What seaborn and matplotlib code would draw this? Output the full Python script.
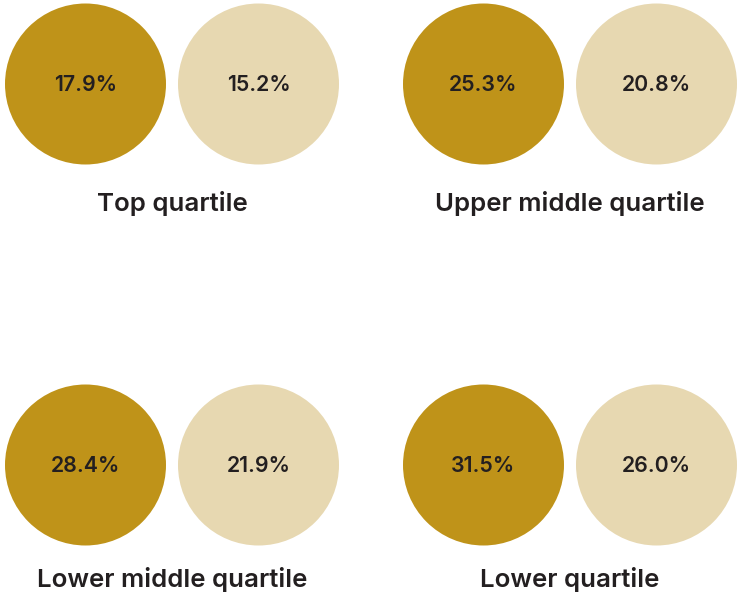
import matplotlib
matplotlib.use("Agg")
import matplotlib.pyplot as plt
import seaborn as sns
import pandas as pd

categories = ["Top quartile", "Upper middle quartile", "Lower middle quartile", "Lower quartile"]
series_a = [17.9, 25.3, 28.4, 31.5]   # dark gold circle
series_b = [15.2, 20.8, 21.9, 26.0]   # light beige circle

DARK = "#BF9319"
LIGHT = "#E7D8B1"
TEXT = "#231F20"

sns.set_theme(style="white")
plt.rcParams['font.family'] = ['Inter', 'DejaVu Sans']

W, H, DPI = 737, 601, 100
fig = plt.figure(figsize=(W / DPI, H / DPI), dpi=DPI)
ax = fig.add_axes([0, 0, 1, 1])

# layout (pixels)
col_x0 = [85.5, 483.5]
gap = 173
row_y = [84, 465]
label_y = [203, 579]
radius = 80.5

rows = []
for i, cat in enumerate(categories):
    r, c = divmod(i, 2)
    rows.append(dict(cat=cat, series="a", val=series_a[i], x=col_x0[c], y=row_y[r]))
    rows.append(dict(cat=cat, series="b", val=series_b[i], x=col_x0[c] + gap, y=row_y[r]))
df = pd.DataFrame(rows)

diam_pt = 2 * radius * 72 / DPI
sns.scatterplot(data=df, x="x", y="y", hue="series", palette={"a": DARK, "b": LIGHT},
                s=diam_pt ** 2, linewidth=0, legend=False, ax=ax)

for _, rw in df.iterrows():
    ax.text(rw.x, rw.y + 1, f"{rw.val:.1f}%", ha="center", va="center",
            fontsize=15.3, fontweight="semibold", color=TEXT)

for i, cat in enumerate(categories):
    r, c = divmod(i, 2)
    ax.text(col_x0[c] + gap / 2, label_y[r], cat, ha="center", va="center",
            fontsize=18.6, fontweight="semibold", color=TEXT)

ax.set_xlim(0, W)
ax.set_ylim(H, 0)
ax.set_axis_off()
fig.savefig("out.png", dpi=DPI, facecolor="white")
